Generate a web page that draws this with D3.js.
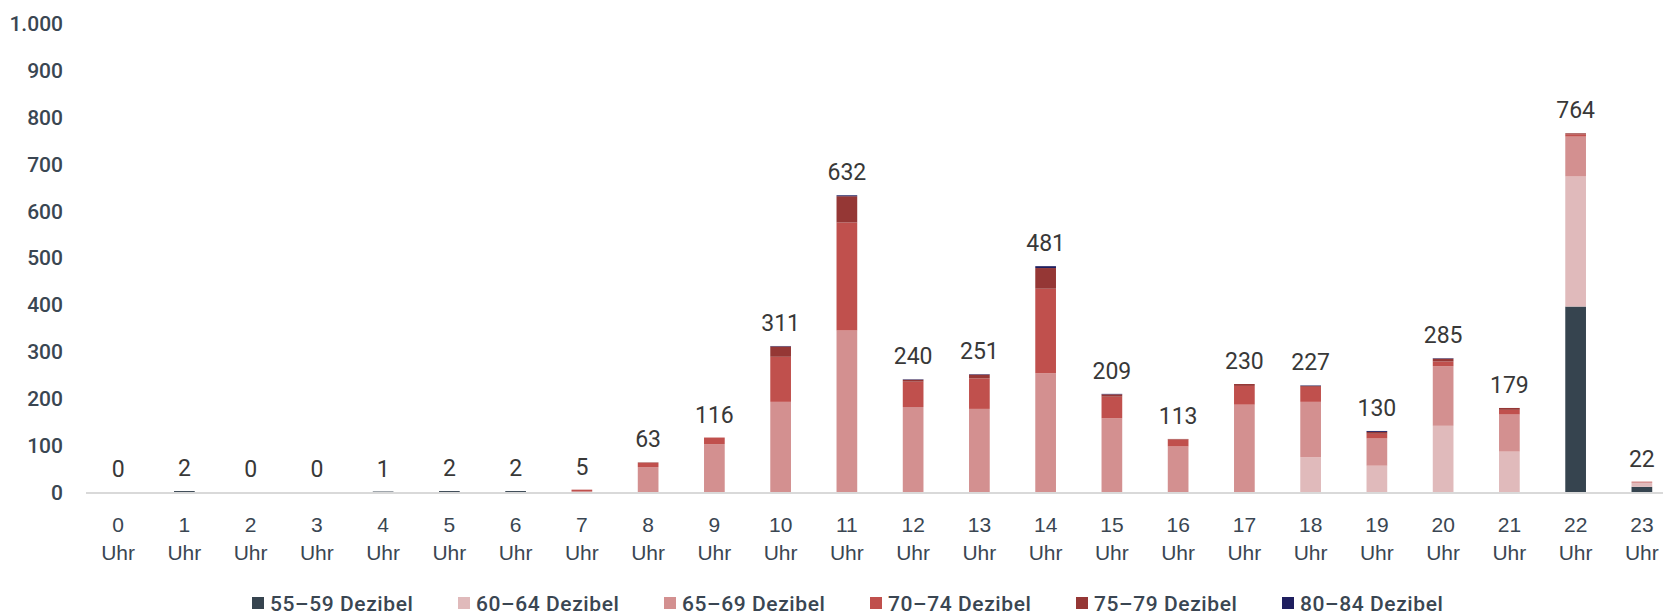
<!DOCTYPE html>
<html>
<head>
<meta charset="utf-8">
<script src="https://cdn.jsdelivr.net/npm/d3@7"></script>
<style>
  html, body { margin: 0; padding: 0; background: #fff; }
  svg { display: block; font-family: Roboto, "Noto Sans", sans-serif; }
</style>
</head>
<body>
<svg id="chart" width="1663" height="615"></svg>
<script>
// hours of the day
const hours = d3.range(24);
const hourLabels = hours.map(h => `${h}`);

// noise classes, stacked from bottom to top
const classes = ["55–59 Dezibel", "60–64 Dezibel", "65–69 Dezibel", "70–74 Dezibel", "75–79 Dezibel", "80–84 Dezibel"];
const classColors = ["#36444f", "#e0babb", "#d39090", "#c0504d", "#953735", "#1f1f5f"];

const db55 = [0, 2, 0, 0, 1, 2, 2, 0, 0, 0, 0, 0, 0, 0, 0, 0, 0, 0, 0, 0, 0, 0, 395, 11];
const db60 = [0, 0, 0, 0, 0, 0, 0, 0, 0, 0, 0, 0, 0, 0, 0, 0, 0, 0, 74, 56, 141, 86, 277, 8];
const db65 = [0, 0, 0, 0, 0, 0, 0, 2, 53, 102, 192, 344, 181, 177, 253, 157, 97, 186, 118, 58, 127, 79, 85, 2];
const db70 = [0, 0, 0, 0, 0, 0, 0, 3, 9, 14, 96, 230, 54, 65, 180, 46, 15, 40, 32, 10, 10, 10, 5, 1];
const db75 = [0, 0, 0, 0, 0, 0, 0, 0, 1, 0, 22, 56, 4, 8, 44, 5, 1, 4, 2, 4, 6, 4, 2, 0];
const db80 = [0, 0, 0, 0, 0, 0, 0, 0, 0, 0, 1, 2, 1, 1, 4, 1, 0, 0, 1, 2, 1, 0, 0, 0];

const totals = [0, 2, 0, 0, 1, 2, 2, 5, 63, 116, 311, 632, 240, 251, 481, 209, 113, 230, 227, 130, 285, 179, 764, 22];

const yTicks = d3.range(0, 1001, 100);

const series = [db55, db60, db65, db70, db75, db80];

const de = d3.formatLocale({ decimal: ",", thousands: ".", grouping: [3], currency: ["", " €"] });
const fmt = de.format(",d");

const svg = d3.select("#chart");
const textColor = "#3a4652";

// table for the stack
const rows = hours.map(h => {
    const r = { hour: h };
    classes.forEach((c, i) => { r[c] = series[i][h]; });
    return r;
});
const stacked = d3.stack().keys(classes)(rows);

const step = 66.25;
const x = d3.scaleBand()
    .domain(hours)
    .range([85, 85 + step * hours.length])
    .paddingInner(0.6875)
    .paddingOuter(0.34375);

const y = d3.scaleLinear()
    .domain([0, 1000])
    .range([492, 22.5]);

// y axis
const yAxis = svg.append("g")
    .attr("transform", "translate(63,1)")
    .call(d3.axisLeft(y).tickValues(yTicks).tickFormat(fmt).tickSize(0).tickPadding(0));
yAxis.select(".domain").remove();
yAxis.selectAll("text")
    .attr("fill", textColor)
    .style("font-size", "21px")
    .style("font-weight", 500)
    .style("font-family", "Roboto, sans-serif");

// bars
const layer = svg.append("g").selectAll("g")
    .data(stacked)
    .join("g")
    .attr("fill", (d, i) => classColors[i]);

layer.selectAll("rect")
    .data(d => d)
    .join("rect")
    .attr("x", d => x(d.data.hour))
    .attr("width", x.bandwidth())
    .attr("y", d => y(d[1]))
    .attr("height", d => y(d[0]) - y(d[1]));

// baseline
svg.append("line")
    .attr("x1", 86).attr("x2", 1663)
    .attr("y1", y(0) + 1).attr("y2", y(0) + 1)
    .attr("stroke", "#d9d9d9")
    .attr("stroke-width", 2);

// x axis
const xAxis = svg.append("g")
    .attr("transform", `translate(0,${y(0)})`)
    .call(d3.axisBottom(x).tickSize(0).tickPadding(0).tickFormat(""));
xAxis.select(".domain").remove();
xAxis.selectAll(".tick").append("text")
    .attr("text-anchor", "middle")
    .attr("fill", textColor)
    .style("font-size", "21px")
    .style("font-weight", 500)
    .selectAll("tspan")
    .data(d => [hourLabels[d], "Uhr"])
    .join("tspan")
    .attr("x", 0)
    .attr("y", (d, i) => 40 + i * 28)
    .text(d => d);

// totals above bars
svg.append("g").selectAll("text")
    .data(hours)
    .join("text")
    .attr("x", d => x(d) + x.bandwidth() / 2)
    .attr("y", d => y(totals[d]) - 15)
    .attr("text-anchor", "middle")
    .attr("fill", "#383838")
    .style("font-size", "23px")
    .style("font-weight", 400)
    .text(d => fmt(totals[d]));

// legend
const legend = svg.append("g").attr("transform", "translate(252,603)");
const item = legend.selectAll("g")
    .data(classes)
    .join("g")
    .attr("transform", (d, i) => `translate(${i * 206},0)`);
item.append("rect")
    .attr("x", 0).attr("y", -6)
    .attr("width", 12).attr("height", 12)
    .attr("fill", (d, i) => classColors[i]);
item.append("text")
    .attr("x", 18).attr("y", 7.5)
    .attr("fill", textColor)
    .style("font-size", "21px")
    .style("font-weight", 500)
    .style("letter-spacing", "0.6px")
    .text(d => d);
</script>
</body>
</html>
